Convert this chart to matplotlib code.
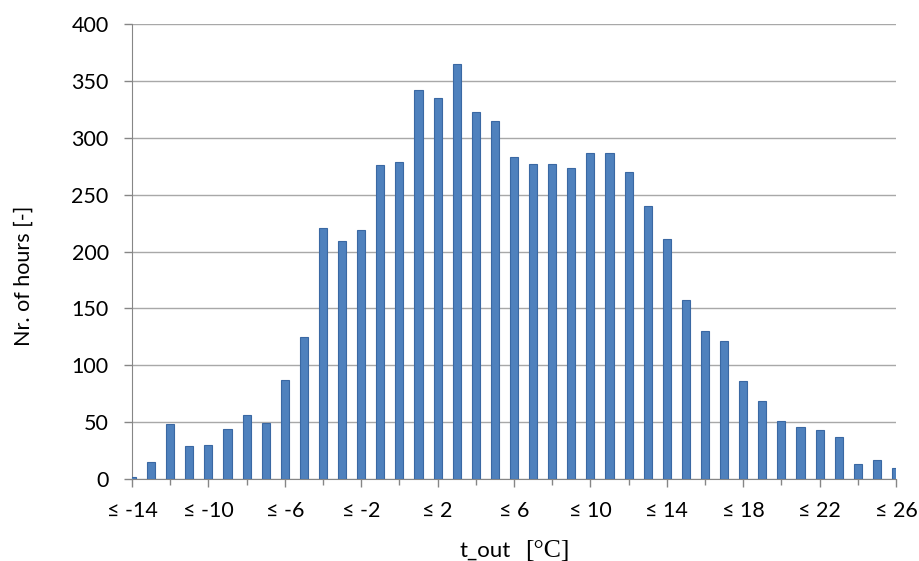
import matplotlib
matplotlib.use("Agg")
import matplotlib.pyplot as plt
from matplotlib.ticker import MultipleLocator, FixedLocator

# hours per outdoor-temperature bin (t_out <= value)
temps = list(range(-14, 27))
hours = [2, 15, 48, 29, 30, 44, 56, 49, 87, 125,
         221, 209, 219, 276, 279, 342, 335, 365, 323, 315,
         283, 277, 277, 273, 287, 287, 270, 240, 211, 157,
         130, 121, 86, 69, 51, 46, 43, 37, 13, 17, 10]
label_temps = [-14, -10, -6, -2, 2, 6, 10, 14, 18, 22, 26]
tick_labels = [f"\u2264 {t}" for t in label_temps]

plt.rcParams["font.family"] = ["Lato", "DejaVu Sans"]

fig = plt.figure(figsize=(9.2, 5.61), dpi=100)
ax = fig.add_axes([132 / 920, 82 / 561, 764 / 920, 455 / 561])

ax.bar(temps, hours, width=0.42, color="#4f81bd", edgecolor="#3a68a3",
       linewidth=0.8, zorder=3)

ax.set_xlim(-14, 26)
ax.set_ylim(0, 400)
ax.yaxis.set_major_locator(MultipleLocator(50))
ax.grid(axis="y", color="#a8a8a8", linewidth=1.0, zorder=0)

ax.xaxis.set_major_locator(FixedLocator(label_temps))
ax.xaxis.set_minor_locator(MultipleLocator(2))
ax.set_xticklabels(tick_labels)

for side in ("top", "right"):
    ax.spines[side].set_visible(False)
ax.spines["left"].set_color("#868686")
ax.spines["bottom"].set_color("#868686")

ax.tick_params(axis="y", direction="out", length=5.8, width=1, color="#868686",
               pad=11, labelsize=15.5)
ax.tick_params(axis="x", which="major", direction="out", length=5.8, width=1,
               color="#868686", pad=10, labelsize=15.5)
ax.tick_params(axis="x", which="minor", direction="out", length=4.3, width=1,
               color="#868686")

ax.set_ylabel("Nr. of hours [-]", fontsize=15.5)
ax.yaxis.set_label_coords(-0.129, 0.447)

ax.text(0.429, -0.171, "t_out", transform=ax.transAxes, ha="left",
        va="baseline", fontsize=16)
ax.text(0.515, -0.171, "[\u00b0C]", transform=ax.transAxes, ha="left",
        va="baseline", fontsize=18.5, family=["Liberation Serif", "DejaVu Serif"])

fig.savefig("out.png", dpi=100)
